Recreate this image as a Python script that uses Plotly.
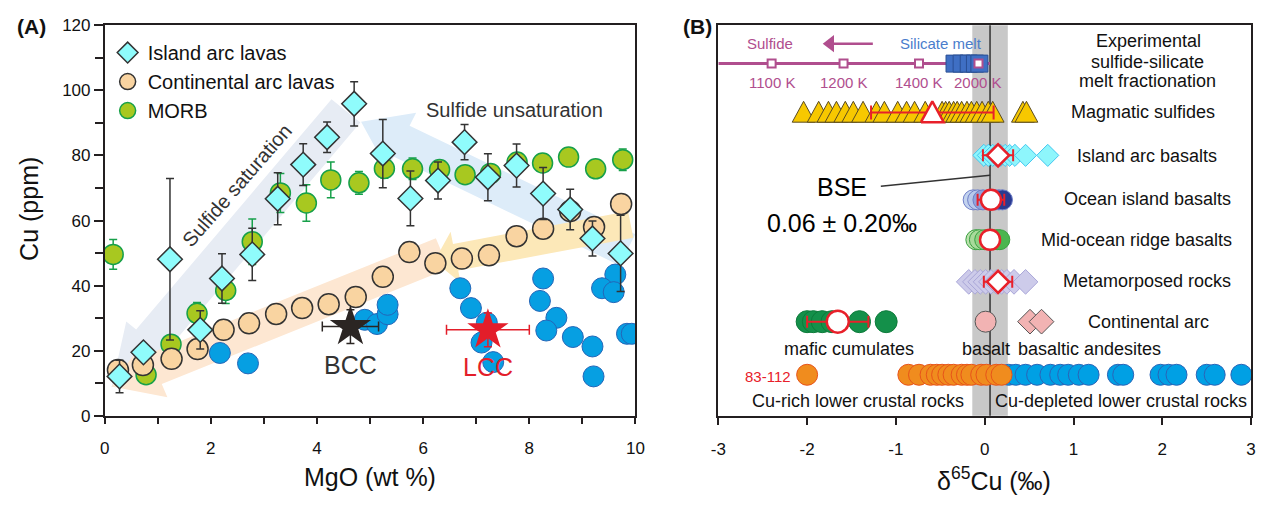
import math
import plotly.graph_objects as go

# ================= Panel A data =================
iab_mgo = [0.28, 0.73, 1.23, 1.80, 2.21, 2.78, 3.26, 3.74, 4.19, 4.70,
           5.24, 5.76, 6.28, 6.78, 7.22, 7.76, 8.26, 8.77, 9.19, 9.72]
iab_cu = [12.1, 19.5, 48.1, 26.4, 42.2, 49.6, 66.7, 77.2, 85.6, 95.9,
          80.6, 66.8, 72.3, 84.1, 73.3, 76.9, 68.3, 63.4, 54.5, 49.9]
iab_err = [5.0, 0.0, 24.8, 5.9, 7.6, 8.0, 8.0, 6.4, 4.7, 6.8,
           10.5, 8.4, 5.7, 5.4, 7.2, 6.6, 8.0, 6.2, 5.4, 11.7]

ca_mgo = [0.25, 0.72, 1.26, 1.75, 2.24, 2.72, 3.23, 3.72, 4.22, 4.73,
          5.24, 5.74, 6.23, 6.73, 7.24, 7.76, 8.26, 8.77, 9.22, 9.73]
ca_cu = [14.1, 15.6, 17.5, 20.5, 26.4, 28.4, 31.3, 33.1, 34.3, 36.5,
         42.7, 50.3, 46.9, 48.3, 49.3, 55.2, 57.5, 62.9, 58.0, 65.1]

morb_mgo = [0.16, 0.78, 1.25, 1.74, 2.28, 2.78, 3.31, 3.80, 4.26, 4.79,
            5.27, 5.80, 6.31, 6.79, 7.27, 7.77, 8.25, 8.74, 9.25, 9.76]
morb_cu = [49.6, 12.6, 22.0, 31.5, 38.5, 53.5, 68.5, 65.4, 72.5, 71.6,
           76.0, 75.9, 75.7, 74.1, 74.5, 78.0, 77.7, 79.5, 75.9, 78.7]
morb_err = [4.6, 0, 2.0, 3.3, 4.0, 7.0, 6.0, 5.6, 5.5, 3.5,
            3.0, 3.3, 2.0, 0, 0, 0, 0, 0, 0, 3.3]

lcx_mgo = [2.17, 2.70, 4.90, 5.13, 5.33, 5.33, 6.70, 6.90, 7.20, 7.10, 7.32,
           8.26, 8.20, 8.51, 8.32, 8.82, 9.19, 9.21, 9.62, 9.37, 9.59, 9.84, 9.93]
lcx_cu = [19.3, 16.1, 29.5, 28.2, 31.2, 34.1, 39.2, 33.1, 28.6, 22.5, 16.5,
          42.2, 35.3, 30.1, 26.2, 24.2, 21.3, 12.1, 43.4, 39.2, 38.0, 25.2, 25.2]

crust_names = ["BCC", "LCC"]
crust_mgo = [4.63, 7.22]
crust_cu = [27.4, 26.4]
crust_mgo_err = [0.53, 0.78]
crust_cu_err = [5.2, 5.2]

# ================= Panel B data (delta65Cu, permil) =================
exp_T_labels = ["1100 K", "1200 K", "1400 K", "2000 K"]
exp_T_d65 = [-2.40, -1.59, -0.74, -0.07]
exp_sil_d65 = [-0.34, -0.26, -0.18, -0.11, -0.06]
exp_line_d65 = [-3.0, 0.06]
exp_arrow_d65 = [-1.26, -1.74]

ms_d65 = [-2.04, -1.87, -1.76, -1.67, -1.57, -1.48, -1.37, -1.22, -1.13, -0.98,
          -0.88, -0.79, -0.67, -0.48, -0.44, -0.40, -0.35, -0.31, -0.26, -0.20,
          -0.15, -0.09, -0.03, 0.04, 0.09, 0.43, 0.47]
ms_mean, ms_sd = -0.59, 0.69

iab_d65 = [-0.01, 0.04, 0.09, 0.13, 0.18, 0.23, 0.28, 0.34, 0.46, 0.71]
iab_mean, iab_sd = 0.15, 0.17

oib_d65 = [-0.13, -0.08, -0.02, 0.12, 0.16, 0.20]
oib_mean, oib_sd = 0.07, 0.15

morbB_d65 = [-0.10, -0.06, 0.00, 0.10, 0.14, 0.17]
morbB_mean, morbB_sd = 0.06, 0.0

meta_d65 = [-0.18, -0.11, -0.05, 0.01, 0.07, 0.13, 0.19, 0.25, 0.33, 0.46]
meta_mean, meta_sd = 0.15, 0.16

ca_basalt_d65 = [0.01]
ca_andesite_d65 = [0.51, 0.64]

cum_d65 = [-2.00, -1.93, -1.83, -1.72, -1.41, -1.11]
cum_mean, cum_sd = -1.655, 0.345

lc_rich_d65 = [-2.00, -0.86, -0.74, -0.61, -0.54, -0.48, -0.41, -0.35, -0.26,
               -0.20, -0.15, -0.04, 0.02, 0.13, 0.19]
lc_dep_d65 = [0.27, 0.35, 0.46, 0.59, 0.74, 0.85, 0.94, 1.06, 1.17, 1.50, 1.56,
              1.98, 2.07, 2.16, 2.50, 2.59, 2.89]

bse_mean, bse_sd = 0.06, 0.20

xB_tickvals = [-3, -2, -1, 0, 1, 2, 3]
xB_ticktext = ["-3", "-2", "-1", "0", "1", "2", "3"]

# ================= layout geometry =================
W, H = 1267, 507
xa_dom = [98 / W, 636 / W]
xb_dom = [720 / W, 1260 / W]
y_dom = [(H - 422.6) / H, (H - 17) / H]
xa_rng, ya_rng = [0, 10], [0, 120]
xb_rng, yb_rng = [-3, 3], [0, 100]

# rows of panel B (y2 units)
row = dict(exp=90.2, ms=77.7, iab=66.7, oib=55.3, morb=45.1, meta=34.3, ca=24.1, lc=10.5)

FONT = "Liberation Sans, Arial, sans-serif"
DARK = "#231f20"
RED = "#e8202a"
PUR = "#b04e8e"

fig = go.Figure()

# ----------------- Panel A traces -----------------
fig.add_trace(go.Scatter(
    x=morb_mgo, y=morb_cu, mode="markers", name="MORB", legendrank=3,
    legendgroup="c",
    marker=dict(symbol="circle", size=20, color="#a8c820", line=dict(color="#17a04a", width=1.5)),
    error_y=dict(type="data", array=morb_err, color="#17a04a", thickness=1.5, width=4),
    xaxis="x", yaxis="y"))

fig.add_trace(go.Scatter(
    x=lcx_mgo, y=lcx_cu, mode="markers", showlegend=False,
    marker=dict(symbol="circle", size=21, color="#069fe2", line=dict(color="#2466b8", width=1)),
    xaxis="x", yaxis="y"))

fig.add_trace(go.Scatter(
    x=ca_mgo, y=ca_cu, mode="markers", name="Continental arc lavas", legendrank=2,
    legendgroup="b",
    marker=dict(symbol="circle", size=21, color="#f9d4a1", line=dict(color="#333333", width=1.5)),
    xaxis="x", yaxis="y"))

fig.add_trace(go.Scatter(
    x=iab_mgo, y=iab_cu, mode="markers", name="Island arc lavas", legendrank=1,
    legendgroup="a",
    marker=dict(symbol="diamond", size=19, color="#8ffcfc", line=dict(color="#333333", width=1.5)),
    error_y=dict(type="data", array=iab_err, color="#333333", thickness=1.5, width=4),
    xaxis="x", yaxis="y"))

for i, nm in enumerate(crust_names):
    col = "#2b2523" if nm == "BCC" else "#e31e2a"
    fig.add_trace(go.Scatter(
        x=[crust_mgo[i]], y=[crust_cu[i]], mode="markers", showlegend=False,
        marker=dict(symbol="star", size=31, color=col, line=dict(width=0)),
        error_x=dict(type="data", array=[crust_mgo_err[i]], color=col, thickness=1.5, width=5),
        error_y=dict(type="data", array=[crust_cu_err[i]], color=col, thickness=1.5, width=4),
        xaxis="x", yaxis="y"))

# ----------------- Panel B traces -----------------
def mean_marker(x, y, sd, symbol, size):
    return go.Scatter(
        x=[x], y=[y], mode="markers", showlegend=False,
        marker=dict(symbol=symbol, size=size, color="white", line=dict(color=RED, width=2.5)),
        error_x=dict(type="data", array=[sd], color=RED, thickness=2, width=6),
        xaxis="x2", yaxis="y2")

# experimental
fig.add_trace(go.Scatter(
    x=exp_line_d65, y=[row["exp"]] * len(exp_line_d65), mode="lines", showlegend=False,
    line=dict(color=PUR, width=3), xaxis="x2", yaxis="y2"))
fig.add_trace(go.Scatter(
    x=exp_sil_d65, y=[row["exp"]] * len(exp_sil_d65), mode="markers", showlegend=False,
    marker=dict(symbol="square", size=17, color="#3f6fc4", line=dict(color="#2a4f94", width=1)),
    xaxis="x2", yaxis="y2"))
fig.add_trace(go.Scatter(
    x=exp_T_d65, y=[row["exp"]] * len(exp_T_d65), mode="markers", showlegend=False,
    marker=dict(symbol="square", size=8, color="white", line=dict(color=PUR, width=2)),
    xaxis="x2", yaxis="y2"))
# "Sulfide <- Silicate melt" arrow
fig.add_trace(go.Scatter(
    x=exp_arrow_d65, y=[95.3] * len(exp_arrow_d65), mode="lines", showlegend=False,
    line=dict(color=PUR, width=2.5), xaxis="x2", yaxis="y2", hoverinfo="skip"))
fig.add_trace(go.Scatter(
    x=[exp_arrow_d65[-1]], y=[95.3], mode="markers", showlegend=False,
    marker=dict(symbol="triangle-left", size=15, color=PUR, line=dict(width=0)),
    xaxis="x2", yaxis="y2", hoverinfo="skip"))

# magmatic sulfides: triangles drawn as polygons
tri_hw = 0.128   # half width in permil
tri_h0, tri_h1 = 2.5, 2.85  # below / above row centre (y2 units)
for v in ms_d65:
    fig.add_trace(go.Scatter(
        x=[v - tri_hw, v + tri_hw, v, v - tri_hw],
        y=[row["ms"] - tri_h0, row["ms"] - tri_h0, row["ms"] + tri_h1, row["ms"] - tri_h0],
        mode="lines", fill="toself", fillcolor="#f7c800",
        line=dict(color="#5a4b22", width=1), showlegend=False, hoverinfo="skip",
        xaxis="x2", yaxis="y2"))
fig.add_trace(go.Scatter(
    x=[ms_mean], y=[row["ms"]], mode="markers", showlegend=False,
    marker=dict(size=1, color="rgba(0,0,0,0)"),
    error_x=dict(type="data", array=[ms_sd], color=RED, thickness=2, width=7),
    xaxis="x2", yaxis="y2"))
fig.add_trace(go.Scatter(
    x=[ms_mean - tri_hw, ms_mean + tri_hw, ms_mean, ms_mean - tri_hw],
    y=[row["ms"] - tri_h0, row["ms"] - tri_h0, row["ms"] + tri_h1, row["ms"] - tri_h0],
    mode="lines", fill="toself", fillcolor="white",
    line=dict(color=RED, width=2.5), showlegend=False, hoverinfo="skip",
    xaxis="x2", yaxis="y2"))

# island arc basalts
fig.add_trace(go.Scatter(
    x=iab_d65, y=[row["iab"]] * len(iab_d65), mode="markers", showlegend=False,
    marker=dict(symbol="diamond", size=17, color="#8ef6fc", line=dict(color="#45c6ef", width=1)),
    xaxis="x2", yaxis="y2"))
fig.add_trace(mean_marker(iab_mean, row["iab"], iab_sd, "diamond", 17))

# ocean island basalts
oib_cols = ["#c3d3ef", "#b8c9ec", "#8fa3dc", "#4a5fb5", "#34459e", "#2a3a90"]
fig.add_trace(go.Scatter(
    x=oib_d65, y=[row["oib"]] * len(oib_d65), mode="markers", showlegend=False,
    marker=dict(symbol="circle", size=20, color=oib_cols, line=dict(color="#6f7fc8", width=1)),
    xaxis="x2", yaxis="y2"))
fig.add_trace(mean_marker(oib_mean, row["oib"], oib_sd, "circle", 20))

# MORB
morb_cols = ["#b9e1ab", "#a8da9b", "#8fd083", "#6cc46a", "#58bb58", "#4cb54e"]
fig.add_trace(go.Scatter(
    x=morbB_d65, y=[row["morb"]] * len(morbB_d65), mode="markers", showlegend=False,
    marker=dict(symbol="circle", size=20, color=morb_cols, line=dict(color="#3aa040", width=1)),
    xaxis="x2", yaxis="y2"))
fig.add_trace(mean_marker(morbB_mean, row["morb"], morbB_sd, "circle", 20))

# metamorphosed rocks
fig.add_trace(go.Scatter(
    x=meta_d65, y=[row["meta"]] * len(meta_d65), mode="markers", showlegend=False,
    marker=dict(symbol="diamond", size=19, color="#cdcbea", line=dict(color="#a9a6d8", width=1)),
    xaxis="x2", yaxis="y2"))
fig.add_trace(mean_marker(meta_mean, row["meta"], meta_sd, "diamond", 17))

# continental arc
fig.add_trace(go.Scatter(
    x=ca_basalt_d65, y=[row["ca"]] * len(ca_basalt_d65), mode="markers", showlegend=False,
    marker=dict(symbol="circle", size=21, color="#f2b3b3", line=dict(color="#555555", width=1)),
    xaxis="x2", yaxis="y2"))
fig.add_trace(go.Scatter(
    x=ca_andesite_d65, y=[row["ca"]] * len(ca_andesite_d65), mode="markers", showlegend=False,
    marker=dict(symbol="diamond", size=19, color="#f2b3b3", line=dict(color="#555555", width=1)),
    xaxis="x2", yaxis="y2"))

# mafic cumulates
fig.add_trace(go.Scatter(
    x=cum_d65, y=[row["ca"]] * len(cum_d65), mode="markers", showlegend=False,
    marker=dict(symbol="circle", size=22, color="#14904a", line=dict(color="#0d7a3a", width=1)),
    xaxis="x2", yaxis="y2"))
fig.add_trace(mean_marker(cum_mean, row["ca"], cum_sd, "circle", 22))

# lower crustal rocks
fig.add_trace(go.Scatter(
    x=lc_dep_d65, y=[row["lc"]] * len(lc_dep_d65), mode="markers", showlegend=False,
    marker=dict(symbol="circle", size=21, color="#00a0e4", line=dict(color="#2a64b8", width=1)),
    xaxis="x2", yaxis="y2"))
fig.add_trace(go.Scatter(
    x=lc_rich_d65, y=[row["lc"]] * len(lc_rich_d65), mode="markers", showlegend=False,
    marker=dict(symbol="circle", size=21, color="#f08c1e", line=dict(color="#e8531a", width=1)),
    xaxis="x2", yaxis="y2"))

# ================= decorative arrows for panel A =================
sx = W * (xa_dom[1] - xa_dom[0]) / (xa_rng[1] - xa_rng[0])
sy = H * (y_dom[1] - y_dom[0]) / (ya_rng[1] - ya_rng[0])


def arrow_path(tail, tip, body, head_w, head_len):
    tx, ty = tail[0] * sx, tail[1] * sy
    hx, hy = tip[0] * sx, tip[1] * sy
    dx, dy = hx - tx, hy - ty
    L = math.hypot(dx, dy)
    ux, uy = dx / L, dy / L
    px, py = -uy, ux
    bx, by = hx - ux * head_len, hy - uy * head_len
    pts = [(tx + px * body / 2, ty + py * body / 2),
           (bx + px * body / 2, by + py * body / 2),
           (bx + px * head_w / 2, by + py * head_w / 2),
           (hx, hy),
           (bx - px * head_w / 2, by - py * head_w / 2),
           (bx - px * body / 2, by - py * body / 2),
           (tx - px * body / 2, ty - py * body / 2)]
    return "M " + " L ".join(f"{x / sx:.4f},{y / sy:.4f}" for x, y in pts) + " Z"


arrows = [
    # (tail, tip, body px, head width px, head length px, colour)
    ((4.545, 93.7), (0.13, 8.8), 38, 64, 62, "#e7ecf4"),
    ((9.85, 51.0), (4.83, 90.4), 36, 66, 46, "#ddecf9"),
    ((6.36, 49.9), (0.13, 9.0), 34, 64, 48, "#fde7d2"),
    ((9.91, 58.8), (6.21, 47.5), 28, 54, 22, "#fce8b8"),
]
shapes = []
for tail, tip, bw, hw, hl, col in arrows:
    shapes.append(dict(type="path", xref="x", yref="y", path=arrow_path(tail, tip, bw, hw, hl),
                       fillcolor=col, line=dict(width=0), layer="below"))

# panel B band and BSE line
shapes.append(dict(type="rect", xref="x2", yref="paper", x0=bse_mean - bse_sd, x1=bse_mean + bse_sd,
                   y0=y_dom[0], y1=y_dom[1], fillcolor="#c8c8c8", line=dict(width=0), layer="below"))
shapes.append(dict(type="line", xref="x2", yref="paper", x0=bse_mean, x1=bse_mean,
                   y0=y_dom[0], y1=y_dom[1], line=dict(color="#333333", width=1.5), layer="below"))
shapes.append(dict(type="line", xref="x2", yref="y2", x0=-1.17, y0=58.8, x1=bse_mean, y1=61.6,
                   line=dict(color="#333333", width=1.5), layer="above"))

# ================= annotations =================
ann = []


def txt(text, x, y, size, color="#111111", xref="x2", yref="y2", **kw):
    d = dict(text=text, x=x, y=y, xref=xref, yref=yref, showarrow=False,
             font=dict(size=size, color=color, family=FONT), xanchor="center", yanchor="middle")
    d.update(kw)
    ann.append(d)


# Panel A texts
txt("Sulfide saturation", 2.50, 70.8, 20, "#333333", "x", "y", textangle=-49)
txt("Sulfide unsaturation", 7.73, 93.9, 20, "#333333", "x", "y")
txt("BCC", crust_mgo[0], 15.6, 25, "#333333", "x", "y")
txt("LCC", crust_mgo[1], 15.1, 25, "#e31e2a", "x", "y")
txt("<b>(A)</b>", 24 / W, 1 - 18 / H, 21, "#111111", "paper", "paper")
txt("<b>(B)</b>", 699 / W, 1 - 18 / H, 21, "#111111", "paper", "paper")
txt("Cu (ppm)", 22 / W, 1 - 208 / H, 25, "#111111", "paper", "paper", textangle=-90)
txt("MgO (wt %)", 367 / W, 1 - 486 / H, 25, "#111111", "paper", "paper")
txt("δ<sup>65</sup>Cu (‰)", 999 / W, 1 - 488 / H, 25, "#111111", "paper", "paper")

# Panel B texts
txt("Sulfide", -2.42, 95.3, 15, PUR)
txt("Silicate melt", -0.49, 95.3, 15, "#4a7dcc")
for lab, v in zip(exp_T_labels, exp_T_d65):
    txt(lab, v, 85.3, 15, PUR)
txt("Experimental", 1.84, 96.0, 18)
txt("sulfide-silicate", 1.83, 90.6, 18)
txt("melt fractionation", 1.83, 85.7, 18)
txt("Magmatic sulfides", 1.78, 77.9, 18)
txt("Island arc basalts", 1.83, 66.5, 18)
txt("Ocean island basalts", 1.83, 55.4, 18)
txt("Mid-ocean ridge basalts", 1.71, 45.0, 18)
txt("Metamorposed rocks", 1.83, 34.4, 18)
txt("Continental arc", 1.85, 24.1, 18)
txt("basalt", 0.02, 17.2, 18)
txt("basaltic andesites", 1.18, 17.2, 18)
txt("mafic cumulates", -1.53, 17.2, 18)
txt("83-112", -2.44, 10.1, 15, RED)
txt("Cu-rich lower crustal rocks", -1.43, 3.7, 18)
txt("Cu-depleted lower crustal rocks", 1.53, 3.7, 18)
txt("BSE", -1.61, 58.6, 25, "#000000")
txt("0.06 ± 0.20‰", -1.61, 49.5, 25, "#000000")

axis_common = dict(showline=True, linecolor=DARK, linewidth=1.5, mirror=True, showgrid=False,
                   zeroline=False, tickcolor=DARK, tickwidth=1.5,
                   tickfont=dict(size=17, color="#111111", family=FONT))

fig.update_layout(
    width=W, height=H, margin=dict(l=0, r=0, t=0, b=0),
    paper_bgcolor="white", plot_bgcolor="white",
    font=dict(family=FONT, color="#111111"),
    xaxis=dict(domain=xa_dom, range=xa_rng, anchor="y", ticks="outside", ticklen=6,
               dtick=2, tick0=0, ticklabelstandoff=10,
               minor=dict(dtick=1, ticks="outside", ticklen=6, tickwidth=1.5, tickcolor=DARK),
               **axis_common),
    yaxis=dict(domain=y_dom, range=ya_rng, anchor="x", ticks="outside", ticklen=9,
               dtick=20, tick0=0,
               minor=dict(dtick=10, ticks="outside", ticklen=8, tickwidth=1.5, tickcolor=DARK),
               **axis_common),
    xaxis2=dict(domain=xb_dom, range=xb_rng, anchor="y2", ticks="outside", ticklen=7,
                tickvals=xB_tickvals, ticktext=xB_ticktext, ticklabelstandoff=10, **axis_common),
    yaxis2=dict(domain=y_dom, range=yb_rng, anchor="x2", ticks="", showticklabels=False,
                **axis_common),
    legend=dict(x=101 / W, y=1 - 25 / H, xanchor="left", yanchor="top",
                font=dict(size=20, color="#111111", family=FONT),
                bgcolor="rgba(0,0,0,0)", itemsizing="trace", tracegroupgap=3,
                traceorder="normal"),
    showlegend=True,
    shapes=shapes,
    annotations=ann,
)

fig.write_html("out.html", config={"displayModeBar": False, "staticPlot": False})

# remove the default page margin so the figure sits at the window origin
with open("out.html", "r", encoding="utf-8") as f:
    html = f.read()
html = html.replace("<head>", "<head><style>html,body{margin:0;padding:0;overflow:hidden;}</style>", 1)
with open("out.html", "w", encoding="utf-8") as f:
    f.write(html)
